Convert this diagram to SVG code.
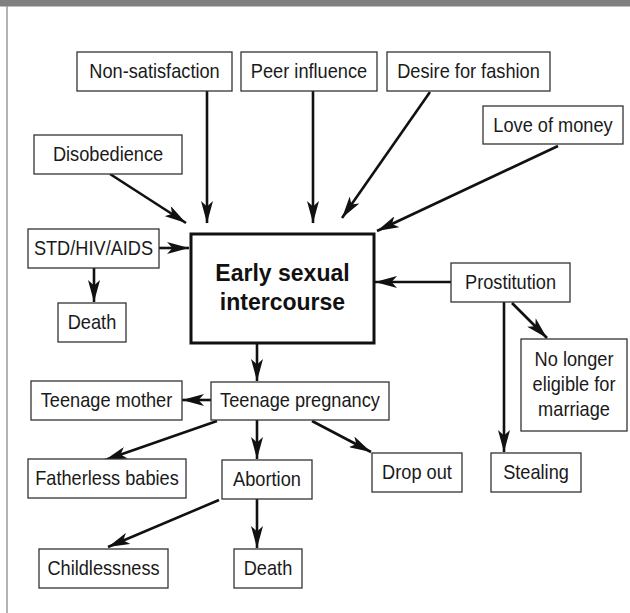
<svg xmlns="http://www.w3.org/2000/svg" width="630" height="613" viewBox="0 0 630 613">
<style>
.box{fill:#fff;stroke:#333;stroke-width:1.3}
.main{fill:#fff;stroke:#111;stroke-width:3}
.t{font-family:"Liberation Sans",Arial,sans-serif;font-size:20px;fill:#1a1a1a;text-anchor:middle}
.b{font-family:"Liberation Sans",Arial,sans-serif;font-size:23px;font-weight:bold;fill:#111;text-anchor:middle}
.c{stroke:#111;stroke-width:2.6;fill:none;marker-end:url(#ah)}
</style>
<defs>
<marker id="ah" markerUnits="userSpaceOnUse" markerWidth="22" markerHeight="12" refX="22" refY="6" orient="auto">
<path d="M0,0 L22,6 L0,12 L5.5,6 z" fill="#111"/>
</marker>
</defs>
<rect x="0" y="0" width="630" height="613" fill="#fff"/>
<rect x="0" y="0" width="630" height="6.5" fill="#808080"/>
<line x1="7" y1="6" x2="7" y2="613" stroke="#999" stroke-width="1.5"/>

<g id="connectors">
<line class="c" x1="207" y1="91" x2="207" y2="223"/>
<line class="c" x1="313" y1="91" x2="313" y2="223"/>
<line class="c" x1="110" y1="174" x2="186" y2="223"/>
<line class="c" x1="430" y1="92" x2="342" y2="218"/>
<line class="c" x1="558" y1="146" x2="377" y2="231"/>
<line class="c" x1="159" y1="248" x2="189" y2="248"/>
<line class="c" x1="94" y1="268" x2="94" y2="302"/>
<line class="c" x1="451" y1="282" x2="375" y2="282"/>
<line class="c" x1="257" y1="344" x2="257" y2="381"/>
<line class="c" x1="512" y1="303" x2="547" y2="338"/>
<line class="c" x1="504" y1="302" x2="504" y2="452"/>
<line class="c" x1="211" y1="400" x2="182" y2="400"/>
<line class="c" x1="217" y1="421" x2="105" y2="460"/>
<line class="c" x1="257" y1="420" x2="257" y2="459"/>
<line class="c" x1="312" y1="421" x2="371" y2="452"/>
<line class="c" x1="219" y1="500" x2="108" y2="547"/>
<line class="c" x1="257" y1="499" x2="257" y2="548"/>
</g>

<g id="non-satisfaction"><rect class="box" x="77" y="52" width="155" height="39"/><text class="t" transform="translate(154.5,78) scale(0.91,1)">Non-satisfaction</text></g>
<g id="peer-influence"><rect class="box" x="241" y="52" width="136" height="39"/><text class="t" transform="translate(309,78) scale(0.91,1)">Peer influence</text></g>
<g id="desire-fashion"><rect class="box" x="387" y="52" width="163" height="39"/><text class="t" transform="translate(468.5,78) scale(0.91,1)">Desire for fashion</text></g>
<g id="love-money"><rect class="box" x="483" y="106" width="140" height="38"/><text class="t" transform="translate(553,132) scale(0.91,1)">Love of money</text></g>
<g id="disobedience"><rect class="box" x="34" y="135" width="148" height="39"/><text class="t" transform="translate(108,161) scale(0.91,1)">Disobedience</text></g>
<g id="std"><rect class="box" x="28" y="229" width="131" height="39"/><text class="t" transform="translate(93.5,255) scale(0.91,1)">STD/HIV/AIDS</text></g>
<g id="death1"><rect class="box" x="58" y="303" width="68" height="39"/><text class="t" transform="translate(92,329) scale(0.91,1)">Death</text></g>
<g id="early"><rect class="main" x="191" y="234" width="183" height="109"/><text class="b" x="282.5" y="281">Early sexual</text><text class="b" x="282.5" y="310">intercourse</text></g>
<g id="prostitution"><rect class="box" x="451" y="263" width="119" height="39"/><text class="t" transform="translate(510.5,289) scale(0.91,1)">Prostitution</text></g>
<g id="no-longer"><rect class="box" x="521" y="339" width="106" height="92"/><text class="t" transform="translate(574,366) scale(0.91,1)">No longer</text><text class="t" transform="translate(574,391) scale(0.91,1)">eligible for</text><text class="t" transform="translate(574,416) scale(0.91,1)">marriage</text></g>
<g id="teenage-mother"><rect class="box" x="31" y="381" width="151" height="39"/><text class="t" transform="translate(106.5,407) scale(0.91,1)">Teenage mother</text></g>
<g id="teenage-pregnancy"><rect class="box" x="211" y="382" width="178" height="38"/><text class="t" transform="translate(300,407) scale(0.91,1)">Teenage pregnancy</text></g>
<g id="fatherless"><rect class="box" x="28" y="459" width="158" height="39"/><text class="t" transform="translate(107,485) scale(0.91,1)">Fatherless babies</text></g>
<g id="abortion"><rect class="box" x="222" y="460" width="90" height="39"/><text class="t" transform="translate(267,486) scale(0.91,1)">Abortion</text></g>
<g id="drop-out"><rect class="box" x="372" y="453" width="90" height="39"/><text class="t" transform="translate(417,479) scale(0.91,1)">Drop out</text></g>
<g id="stealing"><rect class="box" x="491" y="453" width="90" height="39"/><text class="t" transform="translate(536,479) scale(0.91,1)">Stealing</text></g>
<g id="childlessness"><rect class="box" x="39" y="549" width="129" height="39"/><text class="t" transform="translate(103.5,575) scale(0.91,1)">Childlessness</text></g>
<g id="death2"><rect class="box" x="234" y="549" width="68" height="39"/><text class="t" transform="translate(268,575) scale(0.91,1)">Death</text></g>
</svg>
